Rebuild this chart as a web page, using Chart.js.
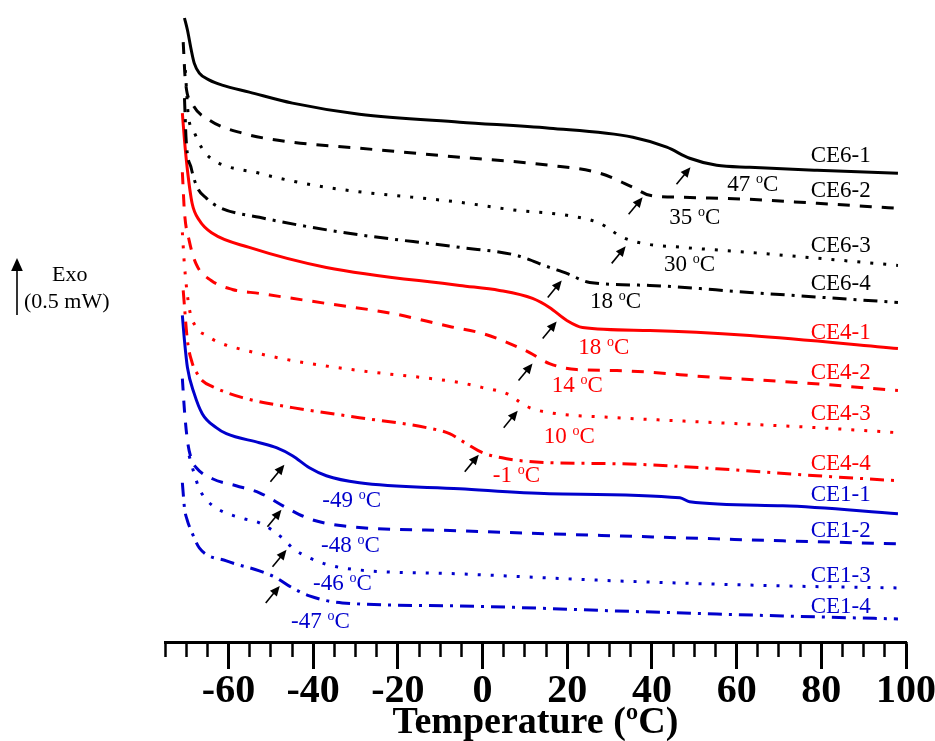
<!DOCTYPE html>
<html lang="en">
  <head>
    <meta charset="UTF-8" />
    <title>DSC curves</title>
    <script src="https://cdn.jsdelivr.net/npm/chart.js"></script>
    <style>
      body { margin: 0; background: #fff; }
    </style>
  </head>
  <body>
    <canvas id="dscChart" width="935" height="741"></canvas>
    <script>
      // curves: [temperature (oC), heat flow offset (a.u., exo up)]
      const CE6_1 = [[-70.4,624],[-69.7,612],[-68.8,592],[-68.1,579],[-66.9,569],[-64.5,562],[-61.5,557],[-55.1,550],[-44.9,539],[-29.1,528],[-5.4,520],[15.8,514],[35.5,505],[43.5,495],[48.9,484],[55.3,477],[63.1,475],[79,472],[98.1,469]];
      const CE6_2 = [[-70.7,600],[-70.2,562],[-68.6,539],[-64.5,522],[-56.7,509],[-44.9,500],[-29.1,494],[-5.4,485],[15.8,477],[27.7,469],[35.5,455],[39.5,447],[47.3,445],[63.1,443],[79,439],[98.1,434]];
      const CE6_3 = [[-70.2,572],[-69.5,527],[-68.1,510],[-66.4,495],[-64.5,485],[-52.7,469],[-36.9,455],[-5.4,440],[8,432],[19.9,427],[27.7,419],[33.1,405],[37.8,399],[47.3,395],[63.1,390],[98.1,377]];
      const CE6_4 = [[-70.4,544],[-70,502],[-68.8,474],[-67.4,455],[-65.2,444],[-62.2,435],[-52.7,425],[-33.1,410],[-5.4,395],[8,387],[15.8,375],[19.9,369],[25.3,360],[39.5,357],[63.1,350],[98.1,340]];
      const CE4_1 = [[-70.9,529],[-70.4,502],[-69.7,472],[-68.6,439],[-66.9,422],[-63.8,409],[-55.1,395],[-36.9,375],[-5.4,357],[4,352],[11.8,344],[15.8,335],[19.9,322],[23.6,315],[39.5,312],[63.1,307],[98.1,294]];
      const CE4_2 = [[-70.9,470],[-70.4,430],[-69.3,402],[-67.6,378],[-64.1,362],[-59.1,353],[-52.7,349],[-36.9,339],[-21.3,329],[-7.8,316],[0,309],[6.4,299],[11.1,290],[15.8,279],[22.2,273],[31.7,272],[55.3,265],[74.9,260],[98.1,252]];
      const CE4_3 = [[-70.9,410],[-70.4,377],[-69.3,335],[-67.6,315],[-65.2,307],[-62.2,300],[-55.8,292],[-44.9,282],[-29.1,272],[-5.4,260],[0,255],[5.7,249],[8.3,242],[11.1,235],[15.8,230],[31.7,225],[55.3,220],[79,215],[98.1,210]];
      const CE4_4 = [[-70.7,352],[-69.7,302],[-68.6,280],[-67.4,269],[-66.2,262],[-63.8,256],[-56.7,245],[-44.9,235],[-29.1,225],[-13.2,215],[-7.8,209],[-3.8,199],[0,190],[5.7,184],[15.8,180],[31.7,179],[55.3,174],[79,167],[98.1,162]];
      const CE1_1 = [[-70.9,327],[-70.4,302],[-69.7,275],[-68.1,249],[-66.2,229],[-62.9,215],[-60.5,209],[-52.7,200],[-48.7,195],[-44.9,187],[-40.9,175],[-36.9,167],[-29.1,160],[-5.4,154],[15.8,149],[46.6,145],[48.9,141],[70.9,137],[98.1,129]];
      const CE1_2 = [[-70.9,264],[-70.4,232],[-69.7,202],[-68.8,184],[-67.6,175],[-63.8,164],[-58.2,157],[-52.7,150],[-46.3,135],[-40.9,124],[-33.1,117],[-5.4,112],[15.8,109],[47.3,105],[70.9,102],[98.1,99]];
      const CE1_3 = [[-69.3,187],[-68.1,169],[-66.9,154],[-65,142],[-62.2,133],[-56.3,124],[-52.7,120],[-47.3,105],[-44.9,95],[-40.9,85],[-33.1,75],[-5.4,69],[31.7,62],[70.9,57],[98.1,55]];
      const CE1_4 = [[-70.9,160],[-70.4,135],[-69.7,122],[-68.8,112],[-66.9,95],[-60.5,82],[-52.7,72],[-48.7,65],[-44.9,55],[-40.9,47],[-33.1,40],[-5.4,37],[31.7,32],[70.9,27],[98.1,24]];

      const seriesNames = ["CE6-1", "CE6-2", "CE6-3", "CE6-4", "CE4-1", "CE4-2", "CE4-3", "CE4-4", "CE1-1", "CE1-2", "CE1-3", "CE1-4"];
      const seriesData = [CE6_1, CE6_2, CE6_3, CE6_4, CE4_1, CE4_2, CE4_3, CE4_4, CE1_1, CE1_2, CE1_3, CE1_4];
      const transitionTemps = [47, 35, 30, 18, 18, 14, 10, -1, -49, -48, -46, -47];
      const xTicks = [-60, -40, -20, 0, 20, 40, 60, 80, 100];

      // annotation placement (data coordinates)
      const nameX = 77.5;
      const nameY = [486, 451, 396, 358, 310, 270, 229, 179, 148, 112, 67, 36];
      const tempLabelPos = [[63.8,459],[50.1,426],[48.9,379],[31.4,342],[28.6,297],[22.4,259],[20.5,208],[8.0,169],[-30.9,144],[-31.2,99],[-33.1,61],[-38.3,23]];
      const arrowTips = [[49.1,475],[37.8,445],[33.8,396],[18.7,362],[17.5,321],[11.8,279],[8.3,232],[-0.9,188],[-46.8,178],[-47.5,133],[-46.3,93],[-47.9,57]];

      // styles
      const groupColors = ["#000000", "#ff0000", "#0000cc"];
      const dashes = [[], [12, 10], [3, 10], [14, 7, 3, 7]];
      const serif = '"Liberation Serif", "Times New Roman", serif';

      function drawTemp(ctx, t, cx, cy, color) {
        const big = "23px " + serif, small = "14px " + serif;
        const head = t + " ";
        ctx.font = big;
        const w1 = ctx.measureText(head).width;
        const w3 = ctx.measureText("C").width;
        ctx.font = small;
        const w2 = ctx.measureText("o").width;
        let x0 = cx - (w1 + w2 + w3) / 2;
        const base = cy + 8;
        ctx.fillStyle = color;
        ctx.textAlign = "left";
        ctx.textBaseline = "alphabetic";
        ctx.font = big;
        ctx.fillText(head, x0, base);
        ctx.font = small;
        ctx.fillText("o", x0 + w1, base - 8);
        ctx.font = big;
        ctx.fillText("C", x0 + w1 + w2, base);
      }

      function drawArrow(ctx, hx, hy, dx, dy, head, lw) {
        const len = Math.hypot(dx, dy);
        const ux = dx / len, uy = dy / len;
        ctx.strokeStyle = "#000";
        ctx.fillStyle = "#000";
        ctx.lineWidth = lw;
        ctx.beginPath();
        ctx.moveTo(hx - dx, hy - dy);
        ctx.lineTo(hx - ux * head * 0.8, hy - uy * head * 0.8);
        ctx.stroke();
        ctx.beginPath();
        ctx.moveTo(hx, hy);
        ctx.lineTo(hx - ux * head - uy * head * 0.45, hy - uy * head + ux * head * 0.45);
        ctx.lineTo(hx - ux * head + uy * head * 0.45, hy - uy * head - ux * head * 0.45);
        ctx.closePath();
        ctx.fill();
      }

      const annotations = {
        id: "annotations",
        afterDatasetsDraw(chart) {
          const { ctx } = chart;
          const x = chart.scales.x, y = chart.scales.y;
          ctx.save();
          seriesNames.forEach((name, i) => {
            const color = groupColors[Math.floor(i / 4)];
            ctx.font = "23px " + serif;
            ctx.fillStyle = color;
            ctx.textAlign = "left";
            ctx.textBaseline = "middle";
            ctx.fillText(name, x.getPixelForValue(nameX), y.getPixelForValue(nameY[i]));
            drawTemp(ctx, transitionTemps[i], x.getPixelForValue(tempLabelPos[i][0]), y.getPixelForValue(tempLabelPos[i][1]), color);
            drawArrow(ctx, x.getPixelForValue(arrowTips[i][0]), y.getPixelForValue(arrowTips[i][1]), 14, -17, 10, 1.6);
          });
          // exo direction and 0.5 mW scale bar
          drawArrow(ctx, 17, 258, 0, -57, 13, 1.6);
          ctx.fillStyle = "#000";
          ctx.font = "22px " + serif;
          ctx.textAlign = "left";
          ctx.textBaseline = "middle";
          ctx.fillText("Exo", 52, 275);
          ctx.fillText("(0.5 mW)", 24, 302);
          ctx.restore();
        },
      };

      const datasets = seriesData.map((pts, i) => ({
        label: seriesNames[i],
        data: pts.map((p) => ({ x: p[0], y: p[1] })),
        borderColor: groupColors[Math.floor(i / 4)],
        borderWidth: 3,
        borderDash: dashes[i % 4],
        borderCapStyle: "butt",
        borderJoinStyle: "round",
        pointRadius: 0,
        fill: false,
        cubicInterpolationMode: "monotone",
      }));

      new Chart(document.getElementById("dscChart").getContext("2d"), {
        type: "line",
        data: { datasets },
        options: {
          responsive: false,
          animation: false,
          devicePixelRatio: 1,
          layout: { padding: { left: 165, right: 28, top: 10, bottom: 0 } },
          plugins: { legend: { display: false }, tooltip: { enabled: false } },
          scales: {
            x: {
              type: "linear",
              position: "bottom",
              min: -75,
              max: 100,
              afterBuildTicks: (axis) => { axis.ticks = xTicks.map((v) => ({ value: v })); },
              ticks: {
                stepSize: 20,
                includeBounds: false,
                padding: -1,
                color: "#000",
                maxRotation: 0,
                font: { family: serif, size: 40, weight: "bold", lineHeight: 1.2 },
              },
              grid: { drawOnChartArea: false, drawTicks: true, tickLength: 27, tickWidth: 3, tickColor: "#000" },
              border: { display: true, color: "#000", width: 3 },
              title: {
                display: true,
                text: "Temperature (ºC)",
                color: "#000",
                padding: { top: -14.8, bottom: -4.8 },
                font: { family: serif, size: 38, weight: "bold", lineHeight: 1.2 },
              },
            },
            xMinor: {
              type: "linear",
              axis: "x",
              position: { y: 1 },
              min: -75,
              max: 100,
              ticks: { display: false, stepSize: 5 },
              grid: { drawOnChartArea: false, drawTicks: true, tickLength: 15, tickWidth: 2.5, tickColor: "#000" },
              border: { display: false },
            },
            y: {
              type: "linear",
              display: false,
              min: 1,
              max: 632,
            },
          },
        },
        plugins: [annotations],
      });
    </script>
  </body>
</html>
